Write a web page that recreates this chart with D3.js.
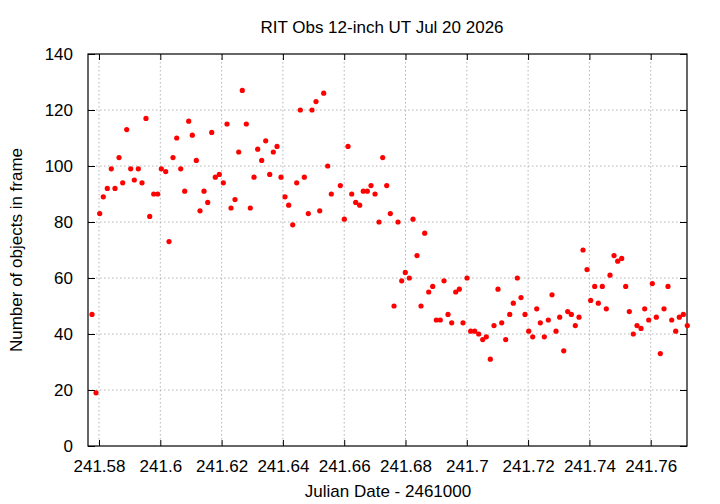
<!DOCTYPE html>
<html><head><meta charset="utf-8">
<script src="https://cdn.jsdelivr.net/npm/d3@7"></script>
<style>
html,body{margin:0;padding:0;background:#fff;}
svg text{font-family:'Liberation Sans Narrow','Arial Narrow','Liberation Sans',Arial,sans-serif;font-size:17px;fill:#000;}
</style></head>
<body>
<svg id="chart" width="720" height="504"></svg>
<script>
const title = "RIT Obs 12-inch UT Jul 20 2026";
const xLabel = "Julian Date - 2461000";
const yLabel = "Number of objects in frame";
const xTicks = [241.58,241.60,241.62,241.64,241.66,241.68,241.70,241.72,241.74,241.76];
const xTickLabels = ["241.58","241.6","241.62","241.64","241.66","241.68","241.7","241.72","241.74","241.76"];
const yTicks = [0,20,40,60,80,100,120,140];
const yTickLabels = ["0","20","40","60","80","100","120","140"];
const jd = [241.57772,241.57902,241.58023,241.58140,241.58271,241.58401,241.58522,241.58653,241.58773,241.58904,
241.59034,241.59152,241.59282,241.59403,241.59533,241.59654,241.59785,241.59915,241.60033,241.60176,
241.60284,241.60414,241.60535,241.60666,241.60796,241.60927,241.61044,241.61175,241.61295,241.61426,
241.61547,241.61677,241.61795,241.61925,241.62056,241.62176,241.62307,241.62437,241.62558,241.62675,
241.62806,241.62936,241.63057,241.63178,241.63308,241.63439,241.63569,241.63687,241.63808,241.63938,
241.64069,241.64189,241.64320,241.64450,241.64568,241.64698,241.64829,241.64949,241.65080,241.65201,
241.65331,241.65462,241.65579,241.65873,241.66003,241.66124,241.66245,241.66375,241.66506,241.66623,
241.66754,241.66874,241.67005,241.67135,241.67256,241.67387,241.67504,241.67625,241.67755,241.67876,
241.67993,241.68124,241.68245,241.68375,241.68506,241.68626,241.68757,241.68887,241.69005,241.69135,
241.69256,241.69387,241.69507,241.69638,241.69755,241.69876,241.70007,241.70127,241.70258,241.70388,
241.70519,241.70636,241.70767,241.70887,241.71018,241.71139,241.71269,241.71400,241.71517,241.71648,
241.71768,241.71899,241.72020,241.72150,241.72281,241.72398,241.72529,241.72659,241.72780,241.72910,
241.73031,241.73162,241.73292,241.73410,241.73540,241.73661,241.73791,241.73922,241.74042,241.74173,
241.74290,241.74421,241.74551,241.74672,241.74803,241.74923,241.75054,241.75184,241.75302,241.75432,
241.75553,241.75684,241.75804,241.75935,241.76052,241.76183,241.76313,241.76434,241.76564,241.76685,
241.76816,241.76933,241.77064,241.77194];
const counts = [47,19,83,89,92,99,92,103,94,113,
99,95,99,94,117,82,90,90,99,98,
73,103,110,99,91,116,111,102,84,91,
87,112,96,97,94,115,85,88,105,127,
115,85,96,106,102,109,97,105,107,96,
89,86,79,94,120,96,83,120,123,84,
126,100,90,93,81,107,90,87,86,91,
91,93,90,80,103,93,83,50,80,59,
62,60,81,68,50,76,55,57,45,45,
59,47,44,55,56,44,60,41,41,40,
38,39,31,43,56,44,38,47,51,60,
53,47,41,39,49,44,39,45,54,41,
46,34,48,47,43,46,70,63,52,57,
51,57,49,61,68,66,67,57,48,40,
43,42,49,45,58,46,33,49,57,45,
41,46,47,43];
const xDomain = [241.57641, 241.77184];
const yDomain = [0, 140];

const svg = d3.select("#chart");
const L = 88, R = 687, T = 54, B = 446;
const x = d3.scaleLinear().domain(xDomain).range([L, R]);
const y = d3.scaleLinear().domain(yDomain).range([B, T]);

// grid
const g = svg.append("g");
g.selectAll("line.gx").data(xTicks).enter().append("line")
  .attr("x1", d => x(d)).attr("x2", d => x(d)).attr("y1", T).attr("y2", B)
  .attr("stroke", "#b4b4b4").attr("stroke-width", 1).attr("stroke-dasharray", "1.5,2.5");
g.selectAll("line.gy").data(yTicks.slice(1, -1)).enter().append("line")
  .attr("y1", d => y(d)).attr("y2", d => y(d)).attr("x1", L).attr("x2", R)
  .attr("stroke", "#b4b4b4").attr("stroke-width", 1).attr("stroke-dasharray", "1.5,2.5");

// axes
const tf = (labels, ticks) => (d => labels[ticks.indexOf(d)]);
const xAxis = d3.axisBottom(x).tickValues(xTicks).tickFormat(tf(xTickLabels, xTicks)).tickSizeInner(-6).tickSizeOuter(0).tickPadding(14);
const xAxisTop = d3.axisTop(x).tickValues(xTicks).tickFormat("").tickSizeInner(-6).tickSizeOuter(0);
const yAxis = d3.axisLeft(y).tickValues(yTicks).tickFormat(tf(yTickLabels, yTicks)).tickSizeInner(-7).tickSizeOuter(0).tickPadding(15);
const yAxisRight = d3.axisRight(y).tickValues(yTicks).tickFormat("").tickSizeInner(-7).tickSizeOuter(0);

function styleAxis(sel){
  sel.select(".domain").remove();
  sel.selectAll(".tick line").attr("stroke", "#000").attr("stroke-width", 1);
  sel.selectAll(".tick text").attr("font-size", null).attr("font-family", null).attr("fill", "#000");
}
svg.append("g").attr("transform", `translate(0,${B})`).call(xAxis).call(styleAxis);
svg.append("g").attr("transform", `translate(0,${T})`).call(xAxisTop).call(styleAxis);
svg.append("g").attr("transform", `translate(${L},0)`).call(yAxis).call(styleAxis);
svg.append("g").attr("transform", `translate(${R},0)`).call(yAxisRight).call(styleAxis);

// frame
svg.append("rect").attr("x", L).attr("y", T).attr("width", R - L).attr("height", B - T)
  .attr("fill", "none").attr("stroke", "#000").attr("stroke-width", 1.2);

// points
const data = jd.map((t, i) => ({t, c: counts[i]}));
svg.append("g").selectAll("circle").data(data).enter().append("circle")
  .attr("cx", d => x(d.t)).attr("cy", d => y(d.c)).attr("r", 2.6)
  .attr("fill", "#ff0000");

// labels
svg.append("text").attr("x", 382).attr("y", 33).attr("text-anchor", "middle").text(title);
svg.append("text").attr("x", 388).attr("y", 497).attr("text-anchor", "middle").text(xLabel);
svg.append("text").attr("transform", "translate(22,250) rotate(-90)").attr("text-anchor", "middle").text(yLabel);
</script>
</body></html>
